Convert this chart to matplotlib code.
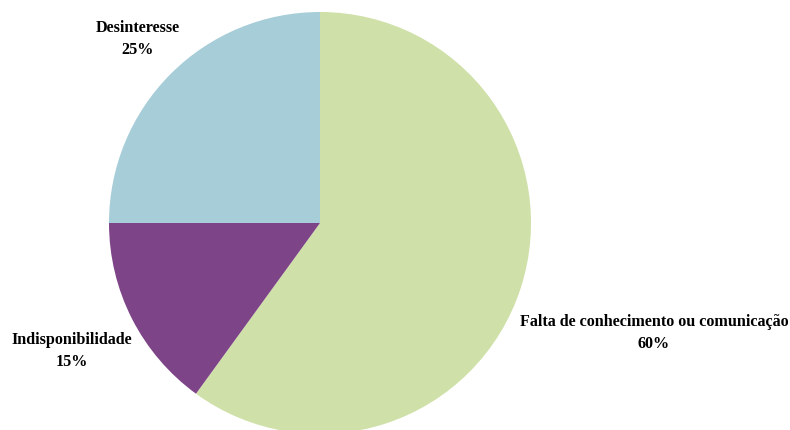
import matplotlib
matplotlib.use("Agg")
import matplotlib.pyplot as plt

categories = ["Falta de conhecimento ou comunicação", "Indisponibilidade", "Desinteresse"]
values = [60, 15, 25]
colors = ["#cfe0a8", "#7d4587", "#a6cdd8"]

# label centres in figure pixels (x, y from top)
label_pos = [(654, 333), (72, 351), (138, 39)]

W, H = 790, 430
fig = plt.figure(figsize=(W / 100, H / 100), dpi=100)
cx, cy, r = 320, 223, 211
ax = fig.add_axes([(cx - r) / W, (H - cy - r) / H, 2 * r / W, 2 * r / H])
ax.pie(values, colors=colors, startangle=90, counterclock=False,
       radius=1, wedgeprops=dict(linewidth=0))
ax.set_xlim(-1, 1)
ax.set_ylim(-1, 1)
ax.set_aspect("equal")
ax.axis("off")

for cat, val, (px, py) in zip(categories, values, label_pos):
    fig.text(px / W, 1 - py / H, f"{cat}\n{val}%", ha="center", va="center",
             family="Liberation Serif", fontweight="bold", fontsize=11.6,
             linespacing=1.55, color="black")

fig.savefig("out.png", dpi=100)
